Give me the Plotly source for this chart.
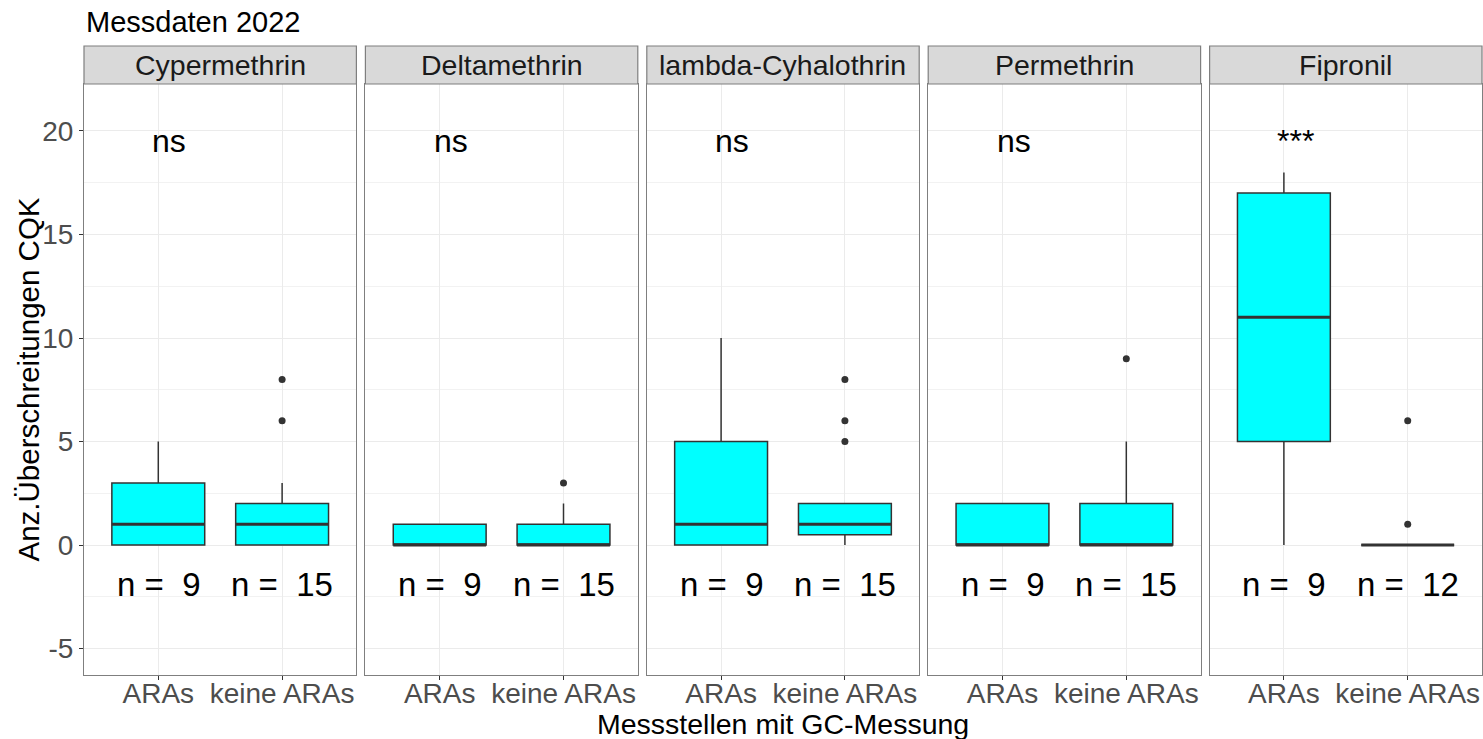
import plotly.graph_objects as go

# Substances (facets) and site groups
substances = ["Cypermethrin", "Deltamethrin", "lambda-Cyhalothrin", "Permethrin", "Fipronil"]
groups = ["ARAs", "keine ARAs"]

# Box statistics per substance: [ARAs, keine ARAs]
q1 = [[0, 0], [0, 0], [0, 0.5], [0, 0], [5, 0]]
median = [[1, 1], [0, 0], [1, 1], [0, 0], [11, 0]]
q3 = [[3, 2], [1, 1], [5, 2], [2, 2], [17, 0]]
lower_whisker = [[0, 0], [0, 0], [0, 0], [0, 0], [0, 0]]
upper_whisker = [[5, 3], [1, 2], [10, 2], [2, 5], [18, 0]]
outliers = [[[], [6, 8]], [[], [3]], [[], [5, 6, 8]], [[], [9]], [[], [1, 6]]]

# Sample sizes and significance labels
n_counts = [[9, 15], [9, 15], [9, 15], [9, 15], [9, 12]]
signif = ["ns", "ns", "ns", "ns", "***"]

# y axis ticks
y_ticks = [-5, 0, 5, 10, 15, 20]
y_tick_text = ["-5", "0", "5", "10", "15", "20"]

FONT = "Liberation Sans, Arial, sans-serif"
BOX_W = 0.75
BOX_FILL = "#00FFFF"
LINE = "#333333"
GRID = "#ebebeb"
BORDER = "#7f7f7f"

W, H = 1483, 739
ML, MR, MT, MB = 84, 1, 84, 64
plot_w = W - ML - MR
plot_h = H - MT - MB
gap = 9
panel_w = (plot_w - gap * (len(substances) - 1)) / len(substances)

fig = go.Figure()
layout = {}
shapes = []
annotations = []

for i, name in enumerate(substances):
    k = "" if i == 0 else str(i + 1)
    xa, ya = "x" + k, "y" + k
    x0 = i * (panel_w + gap) / plot_w
    x1 = (i * (panel_w + gap) + panel_w) / plot_w

    for j, g in enumerate(groups):
        pos = j + 1
        fig.add_trace(go.Box(
            x=[pos], q1=[q1[i][j]], median=[median[i][j]], q3=[q3[i][j]],
            lowerfence=[lower_whisker[i][j]], upperfence=[upper_whisker[i][j]],
            width=BOX_W, whiskerwidth=0, fillcolor=BOX_FILL,
            line=dict(color=LINE, width=1.5), boxpoints=False,
            xaxis=xa, yaxis=ya, showlegend=False, hoverinfo="skip",
        ))
        # thicker median bar
        fig.add_trace(go.Scatter(
            x=[pos - BOX_W / 2, pos + BOX_W / 2], y=[median[i][j]] * 2,
            mode="lines", line=dict(color=LINE, width=3),
            xaxis=xa, yaxis=ya, showlegend=False, hoverinfo="skip",
        ))
        if outliers[i][j]:
            fig.add_trace(go.Scatter(
                x=[pos] * len(outliers[i][j]), y=outliers[i][j], mode="markers",
                marker=dict(color=LINE, size=7),
                xaxis=xa, yaxis=ya, showlegend=False, hoverinfo="skip",
            ))
        annotations.append(dict(
            x=pos, y=-1.9, xref=xa, yref=ya, text="n =  %d" % n_counts[i][j],
            showarrow=False, font=dict(family=FONT, size=33, color="#000000"),
            xanchor="center", yanchor="middle",
        ))

    annotations.append(dict(
        x=1.09, y=19.5, xref=xa, yref=ya, text=signif[i], showarrow=False,
        font=dict(family=FONT, size=32, color="#000000"),
        xanchor="center", yanchor="middle",
    ))

    layout["xaxis" + k] = dict(
        domain=[x0, x1], anchor=ya, range=[0.4, 2.6],
        tickvals=[1, 2], ticktext=groups, ticks="outside", ticklen=4,
        tickcolor=LINE, tickwidth=1, ticklabelstandoff=-11,
        tickfont=dict(family=FONT, size=28, color="#4d4d4d"),
        showgrid=True, gridcolor=GRID, gridwidth=1.2, zeroline=False,
        showline=True, mirror=True, linecolor=BORDER, linewidth=1.2,
        fixedrange=True,
    )
    ydict = dict(
        domain=[0, 1], anchor=xa, range=[-6.28, 22.27],
        tickvals=y_ticks, ticktext=y_tick_text,
        ticks="outside" if i == 0 else "",
        ticklen=4, tickcolor=LINE, tickwidth=1,
        showticklabels=(i == 0),
        tickfont=dict(family=FONT, size=28, color="#4d4d4d"),
        showgrid=True, gridcolor=GRID, gridwidth=1.2, zeroline=False,
        minor=dict(tickvals=[-2.5, 2.5, 7.5, 12.5, 17.5], showgrid=True,
                   gridcolor="#f2f2f2", gridwidth=0.8),
        showline=True, mirror=True, linecolor=BORDER, linewidth=1.2,
        fixedrange=True,
    )
    if i > 0:
        ydict["matches"] = "y"
    layout["yaxis" + k] = ydict

    # facet strip
    strip_top = 1 + 38 / plot_h
    shapes.append(dict(
        type="rect", xref="paper", yref="paper", x0=x0, x1=x1, y0=1, y1=strip_top,
        fillcolor="#d9d9d9", line=dict(color=BORDER, width=1.2), layer="above",
    ))
    annotations.append(dict(
        x=(x0 + x1) / 2, y=(1 + strip_top) / 2, xref="paper", yref="paper",
        text=name, showarrow=False, xanchor="center", yanchor="middle",
        font=dict(family=FONT, size=28.5, color="#1a1a1a"),
    ))

# title and axis titles
annotations.append(dict(
    x=0, y=1 + (MT - 22) / plot_h, xref="paper", yref="paper", text="Messdaten 2022",
    showarrow=False, xanchor="left", yanchor="middle",
    font=dict(family=FONT, size=29, color="#000000"),
))
annotations.append(dict(
    x=0.5, y=-(724 - (H - MB)) / plot_h, xref="paper", yref="paper",
    text="Messstellen mit GC-Messung", showarrow=False,
    xanchor="center", yanchor="middle",
    font=dict(family=FONT, size=28.5, color="#000000"),
))
annotations.append(dict(
    x=-(ML - 28) / plot_w, y=0.5, xref="paper", yref="paper",
    text="Anz.Überschreitungen CQK", showarrow=False, textangle=-90,
    xanchor="center", yanchor="middle",
    font=dict(family=FONT, size=29.5, color="#000000"),
))

fig.update_layout(
    width=W, height=H,
    margin=dict(l=ML, r=MR, t=MT, b=MB),
    paper_bgcolor="white", plot_bgcolor="white",
    showlegend=False, shapes=shapes, annotations=annotations,
    **layout,
)

fig.write_html("out.html")
